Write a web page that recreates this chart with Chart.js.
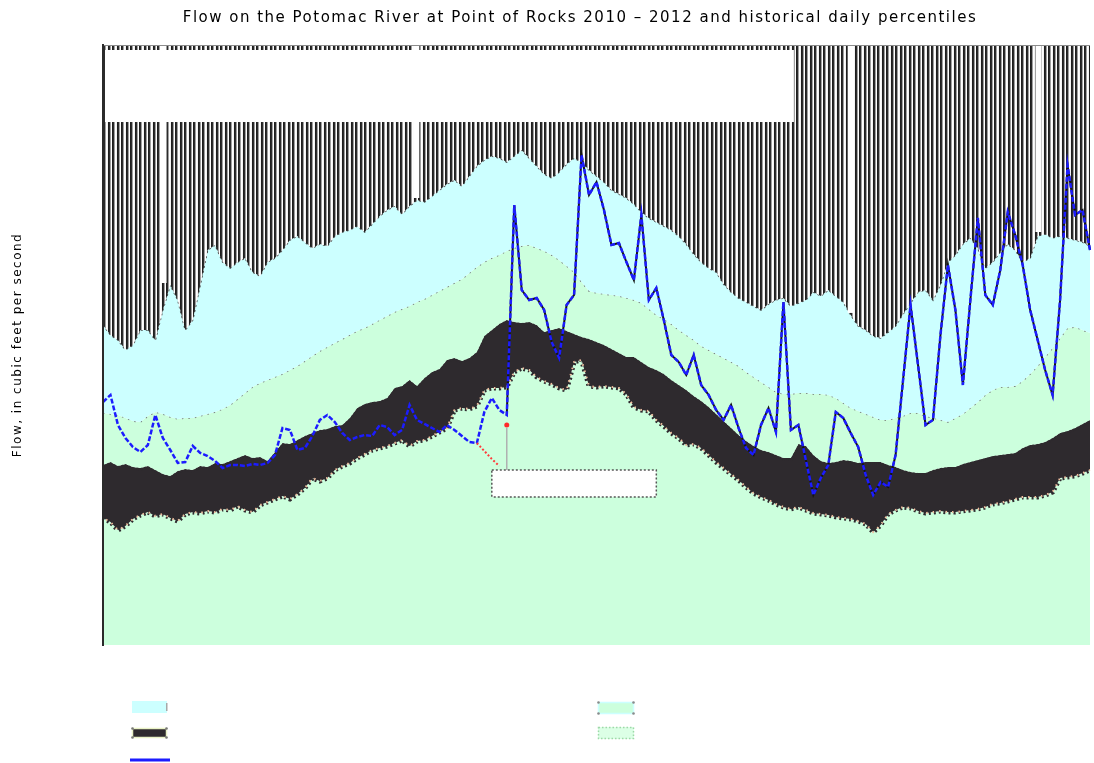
<!DOCTYPE html>
<html>
<head>
<meta charset="utf-8">
<script src="https://cdn.jsdelivr.net/npm/chart.js@4.4.1/dist/chart.umd.min.js"></script>
<style>
  html, body { margin: 0; padding: 0; background: #fff; }
  #wrap { width: 1094px; height: 763px; }
</style>
</head>
<body>
<div id="wrap"><canvas id="flowChart" width="1094" height="763"></canvas></div>
<script>
// Sample positions along the record (one every few days)
const sampleDay = Array.from({ length: 133 }, (_, i) => i + 1);

// Upper edge of the light-cyan band (cfs); above it the hatched band runs to the top
const upperBandTop = [
  39800,35500,33500,29900,31600,37600,37600,33500,47300,63100,
  53100,37600,42200,63100,94400,100000,82200,76700,82200,86100,
  73300,70000,82200,86100,94400,106000,110900,103500,96600,101200,
  98900,110900,116100,118900,124500,116100,127400,139600,149600,156700,
  142900,156700,167900,164100,175800,188400,201800,211300,197200,221300,
  248300,266100,278600,272300,260000,278600,298500,272300,248300,226500,
  216300,231700,254100,272300,260000,237100,221300,206500,188400,179900,
  171800,160300,146200,136500,130300,124500,118900,110900,101200,90200,
  82200,76700,73300,63800,58200,54300,51900,49500,47300,50700,
  53100,54300,49500,51300,53100,58200,55600,59600,55600,51900,
  44700,39400,37600,35100,34300,36700,39400,45200,51300,58200,
  59600,53100,63100,82200,89100,101200,108400,96600,76700,82200,
  92300,101200,94400,82200,86100,110900,113500,108400,110900,108400,
  105900,103500,98900
];

// Boundary between the light-cyan and upper light-green bands (cfs)
const midBandTop = [
  14450,14290,14130,13650,13180,13030,13960,14620,14290,13800,
  13490,13650,13650,13960,14290,14620,15140,15850,16980,18200,
  19500,20420,21140,21880,22650,23710,24830,26300,27860,29510,
  30900,32360,33890,35480,37150,38460,40270,42170,44150,46240,
  47860,49540,51880,53700,56230,58880,61660,64570,67610,72440,
  77620,82230,86100,89130,93320,96600,98850,100000,96600,93320,
  89130,84140,78520,73280,65310,58880,57540,56890,56230,55590,
  54330,53090,51290,47860,44670,42660,40270,37580,35480,33500,
  31260,29850,28510,27230,26000,24830,23170,21880,20650,19500,
  18410,17990,17990,18200,18200,17990,17990,17780,17180,16220,
  15310,14790,14290,13800,13340,13340,13650,13960,14450,14450,
  13960,13650,13340,13030,13650,14290,15310,16410,17780,18840,
  19500,19500,19720,20890,22650,24830,27540,30550,34280,38460,
  38910,37580,36310
];

// Top and bottom of the dark central band (cfs)
const darkBandTop = [
  7940,8220,7850,8040,7760,7670,7850,7500,7160,7000,
  7410,7590,7500,7850,7760,8130,8040,8320,8610,8910,
  8610,8710,8320,9230,10230,10120,10590,11090,11480,11890,
  12020,12440,12590,13650,15310,16030,16410,16600,17180,19280,
  19720,21140,19720,21630,23170,23990,26610,27230,26300,27230,
  29180,35070,37580,40270,42170,41210,40740,41210,39810,36720,
  37580,38460,37150,35890,34670,33890,32730,31620,30200,28840,
  27540,27540,26000,24550,23710,22650,21140,19950,18840,17580,
  16600,15490,14290,13180,12160,11220,10470,9890,9440,9230,
  8910,8610,8610,10120,9890,8910,8320,8130,8220,8410,
  8320,8130,8220,8220,8220,7940,7760,7500,7330,7240,
  7240,7500,7670,7760,7760,8040,8220,8410,8610,8810,
  8910,9020,9120,9660,10000,10120,10350,10840,11480,11750,
  12160,12740,13340
];
const darkBandBottom = [
  4320,4120,3760,3940,4270,4470,4620,4420,4520,4320,
  4170,4520,4620,4570,4680,4620,4790,4730,4950,4730,
  4620,5010,5190,5370,5560,5370,5690,6100,6840,6610,
  6840,7500,7850,8130,8610,9020,9440,9660,9890,10230,
  10590,9890,10470,10590,11090,11610,12160,14960,15310,15140,
  15670,18840,19280,19280,19500,23170,24270,23710,21880,20890,
  20180,19280,18840,26000,26610,19720,19500,19720,19500,19280,
  17990,15490,14960,14790,13340,12440,11480,10840,10000,10120,
  9660,8910,8220,7670,7160,6680,6170,5750,5500,5310,
  5070,4900,4790,4900,4730,4570,4520,4470,4370,4320,
  4270,4170,4030,3670,3980,4520,4730,4900,4840,4680,
  4570,4620,4680,4620,4620,4680,4730,4790,4900,5070,
  5130,5250,5370,5500,5500,5500,5620,5820,6840,6920,
  7000,7240,7500
];

// Observed flow for the period (cfs)
const observedFlow = [
  16410,17780,12590,10840,9770,9230,10000,14130,10840,9440,
  8130,8220,9890,9120,8810,8320,7670,7940,7940,7850,
  8040,7940,8130,8910,12160,11890,9440,9660,11090,13340,
  14130,13030,11480,10590,10960,11220,11090,12590,12300,11220,
  11890,15850,13340,12740,12160,11610,12590,11890,11090,10350,
  10230,14620,17180,14960,14130,158500,59570,53090,54330,47320,
  32730,27230,50120,56230,281800,177800,206500,149600,100000,102300,
  82230,66830,141300,53090,60950,42170,28180,26000,22390,28180,
  19950,17780,14960,13340,15850,12160,9660,8910,12590,15310,
  11610,51880,11890,12590,8410,5620,6840,7940,14620,13650,
  11480,9770,7080,5620,6530,6170,8910,21140,50120,25120,
  12590,13340,35480,79430,47320,19950,53090,136500,56230,50120,
  74990,146200,112200,79430,47320,33500,23710,17780,53090,251200,
  141300,149600,94410
];

// Estimated (provisional) stretch and the flagged reading
const estimatedStart = 50;
const estimatedFlow = [10230, 9330, 8510, 7850];
const flaggedIndex = 54;
const flaggedFlow = 12600;

// Sample positions where the upper-band record is missing
const missingUpperRecord = [8.1, 41.9, 100.0, 125.1];

// Callout box under the flagged reading, and the blank notice panel at upper left
const calloutBox = { fromIndex: 52, toIndex: 74, topFlow: 7500, bottomFlow: 5500 };
const noticePanel = { fromIndex: 0, toIndex: 92.4, topFlow: 944000, bottomFlow: 412000 };

const CYAN = '#ccffff';
const GREEN = '#ccffdd';
const DARK = '#2e2a2e';
const BLUE = '#1c1cff';

function hatchPattern() {
  const c = document.createElement('canvas');
  c.width = 9; c.height = 4;
  const g = c.getContext('2d');
  const cols = ['#1e1e1e', '#2c2c2c', '#a0a0a0', '#ffffff', '#1e1e1e', '#2c2c2c', '#a0a0a0', '#ffffff', '#f4f4f4'];
  cols.forEach((col, i) => { g.fillStyle = col; g.fillRect(i, 0, 1, 4); });
  return g.createPattern(c, 'repeat');
}

const estimatedSeries = sampleDay.map((_, i) =>
  (i >= estimatedStart && i < estimatedStart + estimatedFlow.length) ? estimatedFlow[i - estimatedStart] : null);
const flaggedSeries = sampleDay.map((_, i) => i === flaggedIndex ? flaggedFlow : null);

const textSpacing = {
  id: 'textSpacing',
  beforeDraw(chart) { chart.ctx.letterSpacing = '1.5px'; },
  beforeDatasetsDraw(chart) { chart.ctx.letterSpacing = '0px'; }
};

const overlays = {
  id: 'overlays',
  afterDatasetsDraw(chart) {
    const { ctx, chartArea: a, scales: { x, y } } = chart;
    ctx.save();
    ctx.fillStyle = '#ffffff';
    // gaps in the hatched band where the record is missing
    missingUpperRecord.forEach(idx => {
      const gx = x.getPixelForValue(idx);
      const lo = Math.floor(idx), hi = Math.min(lo + 1, upperBandTop.length - 1);
      const edge = Math.min(y.getPixelForValue(upperBandTop[lo]), y.getPixelForValue(upperBandTop[hi]));
      ctx.fillRect(gx - 3, a.top, 6, Math.max(0, edge - a.top - 2));
    });

    // blank notice panel
    const px0 = x.getPixelForValue(noticePanel.fromIndex) + 2;
    const px1 = x.getPixelForValue(noticePanel.toIndex);
    const py0 = y.getPixelForValue(noticePanel.topFlow);
    const py1 = y.getPixelForValue(noticePanel.bottomFlow);
    ctx.fillRect(px0, py0, px1 - px0, py1 - py0);

    // leader from the flagged reading down to its callout
    const cx = x.getPixelForValue(flaggedIndex);
    const cy = y.getPixelForValue(flaggedFlow);
    const bx0 = x.getPixelForValue(calloutBox.fromIndex);
    const bx1 = x.getPixelForValue(calloutBox.toIndex);
    const by0 = y.getPixelForValue(calloutBox.topFlow);
    const by1 = y.getPixelForValue(calloutBox.bottomFlow);
    ctx.strokeStyle = '#b0b0b0';
    ctx.lineWidth = 1.5;
    ctx.beginPath(); ctx.moveTo(cx, cy + 3); ctx.lineTo(cx, by0); ctx.stroke();
    ctx.fillStyle = '#ffffff';
    ctx.fillRect(bx0, by0, bx1 - bx0, by1 - by0);
    ctx.setLineDash([2, 2]);
    ctx.strokeStyle = '#555';
    ctx.lineWidth = 1.5;
    ctx.strokeRect(bx0, by0, bx1 - bx0, by1 - by0);

    // top frame line
    ctx.setLineDash([]);
    ctx.strokeStyle = '#8c8c8c';
    ctx.lineWidth = 1;
    ctx.beginPath(); ctx.moveTo(a.left, a.top + 0.5); ctx.lineTo(a.right, a.top + 0.5); ctx.stroke();
    ctx.restore();
  }
};

function cornerDots(ctx, x0, y0, x1, y1, color) {
  ctx.fillStyle = color;
  [[x0, y0], [x1, y0], [x0, y1], [x1, y1]].forEach(([px, py]) => {
    ctx.beginPath(); ctx.arc(px, py, 1.3, 0, Math.PI * 2); ctx.fill();
  });
}

const swatchKey = {
  id: 'swatchKey',
  afterDraw(chart) {
    const ctx = chart.ctx;
    ctx.save();
    ctx.setLineDash([]);
    // column 1
    ctx.fillStyle = CYAN;
    ctx.fillRect(132, 701, 35, 12);
    ctx.fillStyle = '#a8a8a8';
    ctx.fillRect(166, 703, 1.5, 8);

    ctx.fillStyle = DARK;
    ctx.fillRect(133, 729, 33, 8);
    ctx.strokeStyle = '#e9f2c6';
    ctx.lineWidth = 1.5;
    ctx.strokeRect(132.5, 728.5, 34, 9);
    cornerDots(ctx, 132.5, 728.5, 166.5, 737.5, '#777');

    ctx.strokeStyle = BLUE;
    ctx.lineWidth = 3;
    ctx.beginPath(); ctx.moveTo(130, 760); ctx.lineTo(170, 760); ctx.stroke();

    // column 2
    ctx.fillStyle = GREEN;
    ctx.fillRect(598, 702, 36, 12);
    ctx.strokeStyle = CYAN;
    ctx.lineWidth = 1.5;
    ctx.strokeRect(598.5, 702.5, 35, 11);
    cornerDots(ctx, 598.5, 702.5, 633.5, 713.5, '#8a8a8a');

    ctx.fillStyle = '#dcffe6';
    ctx.fillRect(598, 727, 36, 12);
    ctx.setLineDash([1.5, 2]);
    ctx.strokeStyle = '#9ed8a8';
    ctx.lineWidth = 1.5;
    ctx.strokeRect(598.5, 727.5, 35, 11);
    ctx.restore();
  }
};

const blueUnderlay = {
  borderColor: ctx => (ctx.p0DataIndex < flaggedIndex ? 'rgba(0,0,0,0)' : '#141414')
};

new Chart(document.getElementById('flowChart'), {
  type: 'line',
  data: {
    labels: sampleDay,
    datasets: [
      { label: 'Flagged reading', data: flaggedSeries, showLine: false, pointRadius: 2.5,
        pointBackgroundColor: '#ff2a2a', pointBorderColor: '#ff2a2a', pointBorderWidth: 0, fill: false },
      { label: 'Estimated flow', data: estimatedSeries, borderColor: '#ff3a3a', borderWidth: 2,
        borderDash: [2, 2], pointRadius: 0, fill: false },
      { label: 'Observed flow', data: observedFlow, borderColor: BLUE, borderWidth: 2.5,
        borderDash: [5, 2], pointRadius: 0, fill: false },
      { label: 'Observed flow outline', data: observedFlow, borderWidth: 2, segment: blueUnderlay,
        borderColor: '#141414', pointRadius: 0, fill: false },
      { label: 'Lower band edge', data: darkBandBottom, borderColor: '#f2bf9f', borderWidth: 2,
        borderDash: [1.5, 5], borderDashOffset: 3, pointRadius: 0, fill: false },
      { label: 'Above upper band', data: upperBandTop, borderWidth: 0, borderColor: 'rgba(0,0,0,0)',
        pointRadius: 0, fill: { target: 'end', above: hatchPattern(), below: hatchPattern() } },
      { label: 'Upper band', data: upperBandTop, borderColor: 'rgba(55,55,55,0.9)', borderWidth: 1.5,
        borderDash: [2, 3], pointRadius: 0, fill: { target: '+1', above: CYAN, below: CYAN } },
      { label: 'Upper middle band', data: midBandTop, borderColor: '#6f6f6f', borderWidth: 1.5,
        borderDash: [1.5, 5], pointRadius: 0, fill: { target: '+1', above: GREEN, below: GREEN } },
      { label: 'Central band', data: darkBandTop, borderColor: DARK, borderWidth: 5,
        borderDash: [2, 2], pointRadius: 0, fill: { target: '+1', above: DARK, below: DARK } },
      { label: 'Lower band', data: darkBandBottom, borderColor: DARK, borderWidth: 5,
        borderDash: [2, 3], pointRadius: 0, fill: { target: 'start', above: GREEN, below: GREEN } }
    ]
  },
  options: {
    responsive: false,
    devicePixelRatio: 1,
    animation: false,
    events: [],
    elements: { line: { tension: 0 } },
    layout: { padding: { left: 68, right: 2, top: 0, bottom: 118 } },
    plugins: {
      legend: { display: false },
      tooltip: { enabled: false },
      title: {
        display: true,
        fullSize: true,
        text: 'Flow on the Potomac River at Point of Rocks 2010 \u2013 2012 and historical daily percentiles',
        color: '#000',
        font: { family: "'DejaVu Sans', sans-serif", size: 15, weight: 'normal' },
        padding: { top: 9, bottom: 18 }
      }
    },
    scales: {
      x: { type: 'category', display: false, offset: false },
      y: {
        type: 'logarithmic',
        min: 1000,
        max: 1000000,
        ticks: { display: false },
        grid: { display: false, drawTicks: false },
        border: { display: true, color: '#2a2a2a', width: 2, z: 1 },
        title: {
          display: true,
          text: 'Flow, in cubic feet per second',
          color: '#000',
          font: { family: "'DejaVu Sans', sans-serif", size: 12 },
          // the axis band starts at the left padding; pull the label back out to the page edge
          padding: { top: -57, bottom: 77.6 }
        }
      }
    }
  },
  plugins: [textSpacing, overlays, swatchKey]
});
</script>
</body>
</html>
